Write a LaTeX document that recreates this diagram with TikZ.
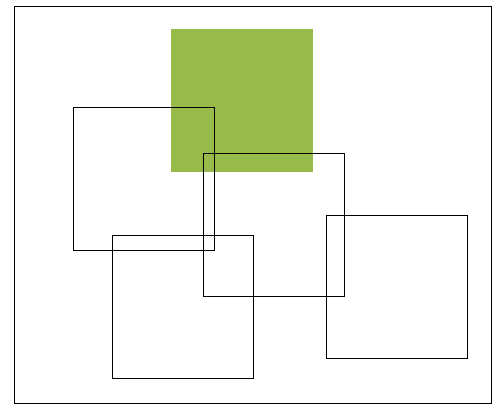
\documentclass[tikz,border=0pt]{standalone}
\usepackage{tikz}
\definecolor{leafgreen}{RGB}{152,186,74}
\tikzset{sqbox/.style={draw, thin, rectangle, minimum width=141pt, minimum height=143pt, inner sep=0pt, anchor=north west}}

\begin{document}
\begin{tikzpicture}[x=1pt, y=-1pt]
\useasboundingbox (0,0) rectangle (499,405);
\node[draw, thin, rectangle, minimum width=477pt, minimum height=397pt, inner sep=0pt, anchor=north west] (frame) at (13.5,6) {};
\node[sqbox, draw=none, fill=leafgreen, minimum width=142pt] (green) at (171,29) {};
\node[sqbox] (sqa) at (72.8,107) {};
\node[sqbox] (sqb) at (202.8,153) {};
\node[sqbox] (sqc) at (111.8,234.5) {};
\node[sqbox] (sqd) at (325.8,215) {};
\end{tikzpicture}
\end{document}
